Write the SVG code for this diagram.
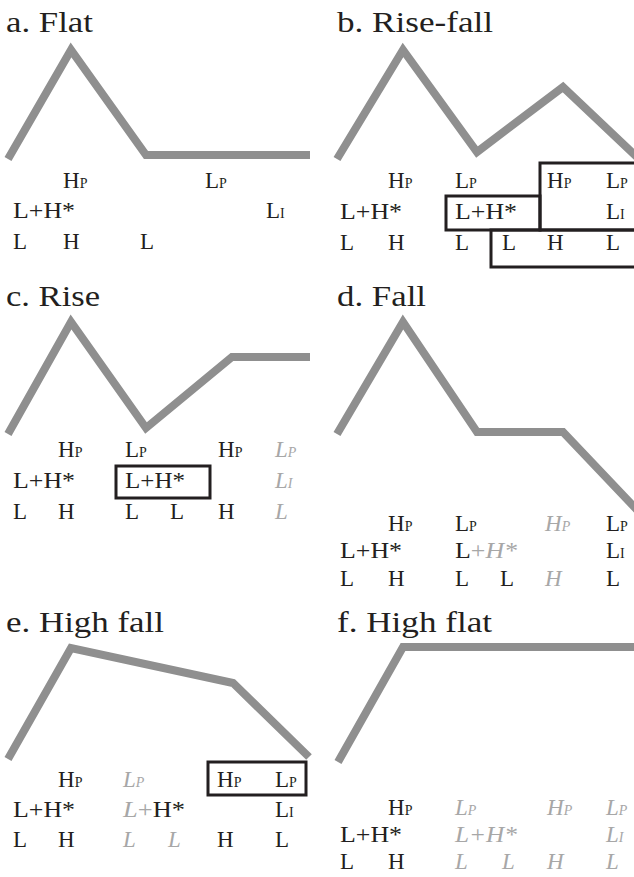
<svg xmlns="http://www.w3.org/2000/svg" width="634" height="877" viewBox="0 0 634 877" font-family="'Liberation Serif', 'Times New Roman', Times, serif">
<style>
.ttl{font-size:29px;fill:#231f20}
.lab{font-size:23px;fill:#231f20}
.s{font-size:14px}
.gi{fill:#a7a7a7;font-style:italic}
.gr{fill:#a7a7a7}
.contour{fill:none;stroke:#8f8f8f;stroke-width:8;stroke-linejoin:miter;stroke-linecap:butt}
.box{fill:none;stroke:#231f20;stroke-width:3}
</style>
<rect width="634" height="877" fill="#ffffff"/>

<g id="panel-a">
<text class="ttl" x="6" y="32" textLength="87" lengthAdjust="spacingAndGlyphs">a. Flat</text>
<path class="contour" d="M8,159 L71,50 L146,155 L310,155"/>
<text class="lab" x="63" y="188">H<tspan class="s">P</tspan></text>
<text class="lab" x="205" y="188">L<tspan class="s">P</tspan></text>
<text class="lab" x="13" y="218" textLength="62" lengthAdjust="spacingAndGlyphs">L+H*</text>
<text class="lab" x="266" y="218">L<tspan class="s">I</tspan></text>
<text class="lab" x="13" y="249">L</text>
<text class="lab" x="63" y="249">H</text>
<text class="lab" x="140" y="249">L</text>
</g>

<g id="panel-b">
<text class="ttl" x="337" y="32" textLength="156" lengthAdjust="spacingAndGlyphs">b. Rise-fall</text>
<path class="contour" d="M337,159 L403,50 L477,152 L563,87 L640,160"/>
<rect class="box" x="540" y="163" width="110" height="67"/>
<rect class="box" x="446" y="196" width="94" height="34"/>
<rect class="box" x="491" y="230" width="150" height="37"/>
<text class="lab" x="388" y="188">H<tspan class="s">P</tspan></text>
<text class="lab" x="455" y="188">L<tspan class="s">P</tspan></text>
<text class="lab" x="547" y="188">H<tspan class="s">P</tspan></text>
<text class="lab" x="606" y="188">L<tspan class="s">P</tspan></text>
<text class="lab" x="340" y="219" textLength="62" lengthAdjust="spacingAndGlyphs">L+H*</text>
<text class="lab" x="455" y="219" textLength="62" lengthAdjust="spacingAndGlyphs">L+H*</text>
<text class="lab" x="606" y="219">L<tspan class="s">I</tspan></text>
<text class="lab" x="340" y="250">L</text>
<text class="lab" x="388" y="250">H</text>
<text class="lab" x="455" y="250">L</text>
<text class="lab" x="502" y="250">L</text>
<text class="lab" x="547" y="250">H</text>
<text class="lab" x="606" y="250">L</text>
</g>

<g id="panel-c">
<text class="ttl" x="6" y="306" textLength="94" lengthAdjust="spacingAndGlyphs">c. Rise</text>
<path class="contour" d="M8,434 L71,322 L146,428 L232,357 L310,357"/>
<rect class="box" x="116" y="466" width="94" height="32"/>
<text class="lab" x="58" y="457">H<tspan class="s">P</tspan></text>
<text class="lab" x="125" y="457">L<tspan class="s">P</tspan></text>
<text class="lab" x="218" y="457">H<tspan class="s">P</tspan></text>
<text class="lab gi" x="275" y="457">L<tspan class="s">P</tspan></text>
<text class="lab" x="13" y="488" textLength="62" lengthAdjust="spacingAndGlyphs">L+H*</text>
<text class="lab" x="125" y="488" textLength="60" lengthAdjust="spacingAndGlyphs">L+H*</text>
<text class="lab gi" x="275" y="488">L<tspan class="s">I</tspan></text>
<text class="lab" x="13" y="519">L</text>
<text class="lab" x="58" y="519">H</text>
<text class="lab" x="125" y="519">L</text>
<text class="lab" x="170" y="519">L</text>
<text class="lab" x="218" y="519">H</text>
<text class="lab gi" x="275" y="519">L</text>
</g>

<g id="panel-d">
<text class="ttl" x="337" y="306" textLength="89" lengthAdjust="spacingAndGlyphs">d. Fall</text>
<path class="contour" d="M337,434 L403,322 L477,432 L563,432 L640,513"/>
<text class="lab" x="388" y="531">H<tspan class="s">P</tspan></text>
<text class="lab" x="455" y="531">L<tspan class="s">P</tspan></text>
<text class="lab gi" x="545" y="531">H<tspan class="s">P</tspan></text>
<text class="lab" x="606" y="531">L<tspan class="s">P</tspan></text>
<text class="lab" x="340" y="558" textLength="62" lengthAdjust="spacingAndGlyphs">L+H*</text>
<text class="lab" x="455" y="558" textLength="62" lengthAdjust="spacingAndGlyphs">L<tspan class="gr">+</tspan><tspan class="gi">H*</tspan></text>
<text class="lab" x="606" y="558">L<tspan class="s">I</tspan></text>
<text class="lab" x="340" y="586">L</text>
<text class="lab" x="388" y="586">H</text>
<text class="lab" x="455" y="586">L</text>
<text class="lab" x="500" y="586">L</text>
<text class="lab gi" x="545" y="586">H</text>
<text class="lab" x="606" y="586">L</text>
</g>

<g id="panel-e">
<text class="ttl" x="6" y="632" textLength="158" lengthAdjust="spacingAndGlyphs">e. High fall</text>
<path class="contour" d="M8,759 L71,648 L233,683 L309,757"/>
<rect class="box" x="208" y="762" width="98" height="33"/>
<text class="lab" x="58" y="787">H<tspan class="s">P</tspan></text>
<text class="lab gi" x="123" y="787">L<tspan class="s">P</tspan></text>
<text class="lab" x="217" y="787">H<tspan class="s">P</tspan></text>
<text class="lab" x="275" y="787">L<tspan class="s">P</tspan></text>
<text class="lab" x="13" y="817" textLength="62" lengthAdjust="spacingAndGlyphs">L+H*</text>
<text class="lab" x="123" y="817" textLength="62" lengthAdjust="spacingAndGlyphs"><tspan class="gi">L</tspan><tspan class="gr">+</tspan>H*</text>
<text class="lab" x="275" y="817">L<tspan class="s">I</tspan></text>
<text class="lab" x="13" y="847">L</text>
<text class="lab" x="58" y="847">H</text>
<text class="lab gi" x="123" y="847">L</text>
<text class="lab gi" x="168" y="847">L</text>
<text class="lab" x="217" y="847">H</text>
<text class="lab" x="275" y="847">L</text>
</g>

<g id="panel-f">
<text class="ttl" x="337" y="632" textLength="155" lengthAdjust="spacingAndGlyphs">f. High flat</text>
<path class="contour" d="M338,762 L403,647 L640,647"/>
<text class="lab" x="388" y="815">H<tspan class="s">P</tspan></text>
<text class="lab gi" x="455" y="815">L<tspan class="s">P</tspan></text>
<text class="lab gi" x="547" y="815">H<tspan class="s">P</tspan></text>
<text class="lab gi" x="606" y="815">L<tspan class="s">P</tspan></text>
<text class="lab" x="340" y="842" textLength="62" lengthAdjust="spacingAndGlyphs">L+H*</text>
<text class="lab gi" x="455" y="842" textLength="62" lengthAdjust="spacingAndGlyphs">L+H*</text>
<text class="lab gi" x="606" y="842">L<tspan class="s">I</tspan></text>
<text class="lab" x="340" y="869">L</text>
<text class="lab" x="388" y="869">H</text>
<text class="lab gi" x="455" y="869">L</text>
<text class="lab gi" x="502" y="869">L</text>
<text class="lab gi" x="547" y="869">H</text>
<text class="lab gi" x="606" y="869">L</text>
</g>
</svg>
